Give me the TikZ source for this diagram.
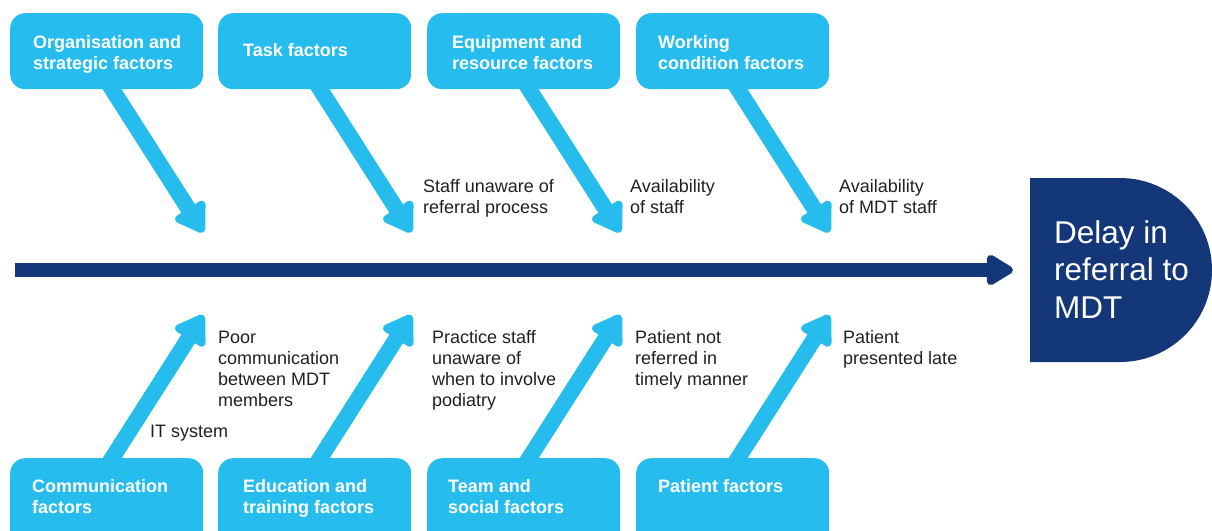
\documentclass[tikz,border=0pt]{standalone}
\usepackage{fontspec}
\setmainfont{Liberation Sans}
\usetikzlibrary{arrows.meta,backgrounds}
\definecolor{factorblue}{RGB}{38,188,238}
\definecolor{spinenavy}{RGB}{20,55,122}
\definecolor{causegray}{RGB}{35,31,32}

\begin{document}
\begin{tikzpicture}[x=1pt,y=-1pt,
        factor/.style={fill=factorblue, rounded corners=15pt, minimum width=193pt, minimum height=76pt, anchor=north west, inner sep=0pt},
        factortext/.style={font=\fontsize{18pt}{21pt}\selectfont\bfseries, text=white, align=left, anchor=base west, inner sep=0pt},
        cause/.style={font=\fontsize{18pt}{21pt}\selectfont, text=causegray, align=left, anchor=base west, inner sep=0pt},
        bone/.style={draw=factorblue, line width=16pt, -{Triangle[length=32pt,width=39pt,round]}},
        spine/.style={draw=spinenavy, line width=14pt, -{Triangle[length=30pt,width=34pt,round]}}]
        \useasboundingbox (0,0) rectangle (1212,530);

        % top row of factors
        \node[factor] (org) at (10,13) {};
        \node[factor] (task) at (218,13) {};
        \node[factor] (equip) at (427,13) {};
        \node[factor] (work) at (636,13) {};

        % (base of a text node = its last line)
        \node[factortext] (orgtext) at (33,69) {Organisation and\\strategic factors};
        \node[factortext] (tasktext) at (243,56) {Task factors};
        \node[factortext] (equiptext) at (452,69) {Equipment and\\resource factors};
        \node[factortext] (worktext) at (658,69) {Working\\condition factors};

        % bottom row of factors
        \node[factor, minimum height=95pt] (com) at (10,458) {};
        \node[factor, minimum height=95pt] (edu) at (218,458) {};
        \node[factor, minimum height=95pt] (team) at (427,458) {};
        \node[factor, minimum height=95pt] (pat) at (636,458) {};

        \node[factortext] (comtext) at (32,513) {Communication\\factors};
        \node[factortext] (edutext) at (243,513) {Education and\\training factors};
        \node[factortext] (teamtext) at (448,513) {Team and\\social factors};
        \node[factortext] (pattext) at (658,492) {Patient factors};

        % effect
        \fill[spinenavy] (1030,178) -- (1120,178) arc[start angle=-90, end angle=90, radius=92] -- (1030,362) -- cycle;
        \coordinate (head) at (1030,270);
        \coordinate (tail) at (15,270);
        \node[font=\fontsize{31.5pt}{37.5pt}\selectfont, text=white, align=left, anchor=base west, inner sep=0pt] (effect) at (1054,318) {Delay in\\referral to\\MDT};

        % causes
        \node[cause] (staff) at (423,213) {Staff unaware of\\referral process};
        \node[cause] (availstaff) at (630,213) {Availability\\of staff};
        \node[cause] (availmdt) at (839,213) {Availability\\of MDT staff};
        \node[cause] (poorcomm) at (218,406) {Poor\\communication\\between MDT\\members};
        \node[cause] (itsys) at (150,437) {IT system};
        \node[cause] (practice) at (432,406) {Practice staff\\unaware of\\when to involve\\podiatry};
        \node[cause] (notref) at (635,385) {Patient not\\referred in\\timely manner};
        \node[cause] (late) at (843,364) {Patient\\presented late};

        % bones
        \begin{scope}[on background layer]
            \foreach \f in {org,task,equip,work} {
                \coordinate (\f tip) at ([yshift=-143pt]\f.south east);
                \draw[bone] ([shift={(-6.6pt,19pt)}]\f.south) -- (\f tip);
            }
            \foreach \f in {com,edu,team,pat} {
                \coordinate (\f tip) at ([yshift=143pt]\f.north east);
                \draw[bone] ([shift={(-6.6pt,-19pt)}]\f.north) -- (\f tip);
            }
        \end{scope}
        \draw[spine] (tail) -- ([xshift=-17pt]head);
    \end{tikzpicture}
\end{document}
